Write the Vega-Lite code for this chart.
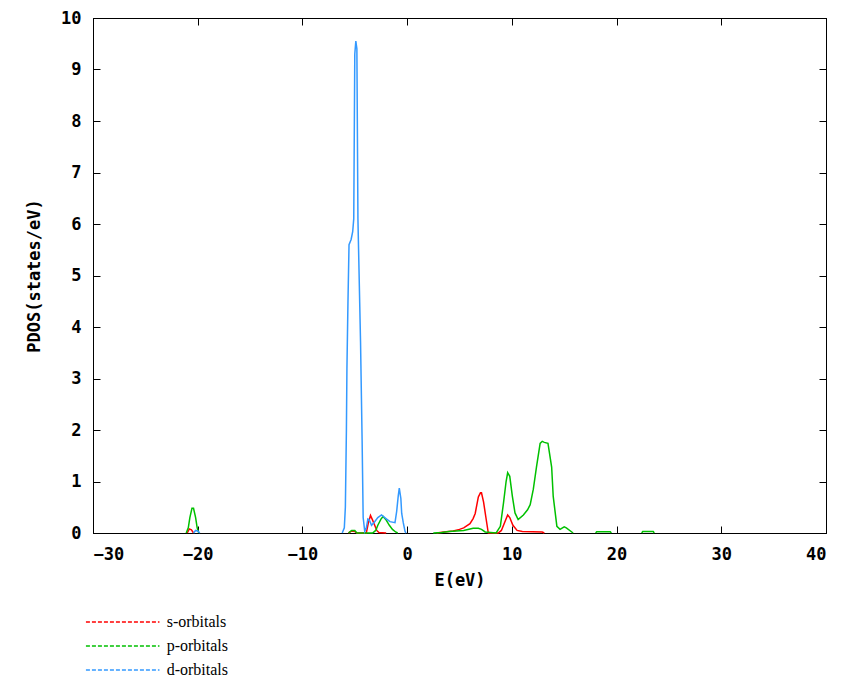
{
  "$schema": "https://vega.github.io/schema/vega-lite/v6.json",
  "width": 733,
  "height": 515,
  "autosize": {"type": "none"},
  "padding": {"left": 93, "top": 18, "right": 33, "bottom": 157},
  "background": "white",
  "config": {
    "view": {"stroke": "black", "strokeWidth": 1},
    "axis": {
      "domainColor": "black",
      "tickColor": "black",
      "grid": false,
      "labelFont": "DejaVu Sans Mono",
      "labelFontWeight": "bold",
      "labelFontSize": 17,
      "labelColor": "black",
      "titleFont": "DejaVu Sans Mono",
      "titleFontWeight": "bold",
      "titleFontSize": 17,
      "titleColor": "black",
      "tickSize": -7,
      "zindex": 1
    }
  },
  "data": {
    "values": [
      {"E": -21.0, "pdos": 0, "orbital": "s-orbitals"},
      {"E": -20.8, "pdos": 0.08, "orbital": "s-orbitals"},
      {"E": -20.6, "pdos": 0.06, "orbital": "s-orbitals"},
      {"E": -20.4, "pdos": 0, "orbital": "s-orbitals"},
      {"E": -13.0, "pdos": null, "orbital": "s-orbitals"},
      {"E": -5.6, "pdos": 0, "orbital": "s-orbitals"},
      {"E": -5.3, "pdos": 0.04, "orbital": "s-orbitals"},
      {"E": -5.0, "pdos": 0.03, "orbital": "s-orbitals"},
      {"E": -4.8, "pdos": 0, "orbital": "s-orbitals"},
      {"E": -3.9, "pdos": 0, "orbital": "s-orbitals"},
      {"E": -3.7, "pdos": 0.2, "orbital": "s-orbitals"},
      {"E": -3.5, "pdos": 0.34, "orbital": "s-orbitals"},
      {"E": -3.3, "pdos": 0.25, "orbital": "s-orbitals"},
      {"E": -3.1, "pdos": 0.15, "orbital": "s-orbitals"},
      {"E": -2.9, "pdos": 0.05, "orbital": "s-orbitals"},
      {"E": -2.7, "pdos": 0.01, "orbital": "s-orbitals"},
      {"E": -2.0, "pdos": 0, "orbital": "s-orbitals"},
      {"E": 0.5, "pdos": null, "orbital": "s-orbitals"},
      {"E": 2.8, "pdos": 0, "orbital": "s-orbitals"},
      {"E": 3.5, "pdos": 0.02, "orbital": "s-orbitals"},
      {"E": 4.4, "pdos": 0.04, "orbital": "s-orbitals"},
      {"E": 5.0, "pdos": 0.07, "orbital": "s-orbitals"},
      {"E": 5.4, "pdos": 0.1, "orbital": "s-orbitals"},
      {"E": 6.0, "pdos": 0.18, "orbital": "s-orbitals"},
      {"E": 6.3, "pdos": 0.28, "orbital": "s-orbitals"},
      {"E": 6.5, "pdos": 0.38, "orbital": "s-orbitals"},
      {"E": 6.8, "pdos": 0.7, "orbital": "s-orbitals"},
      {"E": 7.0, "pdos": 0.78, "orbital": "s-orbitals"},
      {"E": 7.1, "pdos": 0.78, "orbital": "s-orbitals"},
      {"E": 7.3, "pdos": 0.6, "orbital": "s-orbitals"},
      {"E": 7.5, "pdos": 0.33, "orbital": "s-orbitals"},
      {"E": 7.75, "pdos": 0, "orbital": "s-orbitals"},
      {"E": 8.7, "pdos": 0, "orbital": "s-orbitals"},
      {"E": 9.0, "pdos": 0.05, "orbital": "s-orbitals"},
      {"E": 9.3, "pdos": 0.2, "orbital": "s-orbitals"},
      {"E": 9.6, "pdos": 0.35, "orbital": "s-orbitals"},
      {"E": 9.8, "pdos": 0.3, "orbital": "s-orbitals"},
      {"E": 10.1, "pdos": 0.15, "orbital": "s-orbitals"},
      {"E": 10.5, "pdos": 0.05, "orbital": "s-orbitals"},
      {"E": 11.0, "pdos": 0.03, "orbital": "s-orbitals"},
      {"E": 12.9, "pdos": 0.02, "orbital": "s-orbitals"},
      {"E": 13.1, "pdos": 0, "orbital": "s-orbitals"},

      {"E": -21.1, "pdos": 0, "orbital": "p-orbitals"},
      {"E": -20.9, "pdos": 0.1, "orbital": "p-orbitals"},
      {"E": -20.75, "pdos": 0.3, "orbital": "p-orbitals"},
      {"E": -20.55, "pdos": 0.48, "orbital": "p-orbitals"},
      {"E": -20.4, "pdos": 0.48, "orbital": "p-orbitals"},
      {"E": -20.2, "pdos": 0.3, "orbital": "p-orbitals"},
      {"E": -20.05, "pdos": 0.1, "orbital": "p-orbitals"},
      {"E": -19.9, "pdos": 0, "orbital": "p-orbitals"},
      {"E": -13.0, "pdos": null, "orbital": "p-orbitals"},
      {"E": -5.6, "pdos": 0, "orbital": "p-orbitals"},
      {"E": -5.3, "pdos": 0.05, "orbital": "p-orbitals"},
      {"E": -5.0, "pdos": 0.05, "orbital": "p-orbitals"},
      {"E": -4.8, "pdos": 0, "orbital": "p-orbitals"},
      {"E": -3.3, "pdos": 0, "orbital": "p-orbitals"},
      {"E": -3.0, "pdos": 0.05, "orbital": "p-orbitals"},
      {"E": -2.8, "pdos": 0.15, "orbital": "p-orbitals"},
      {"E": -2.5, "pdos": 0.27, "orbital": "p-orbitals"},
      {"E": -2.3, "pdos": 0.32, "orbital": "p-orbitals"},
      {"E": -2.0, "pdos": 0.25, "orbital": "p-orbitals"},
      {"E": -1.7, "pdos": 0.15, "orbital": "p-orbitals"},
      {"E": -1.4, "pdos": 0.07, "orbital": "p-orbitals"},
      {"E": -1.1, "pdos": 0.02, "orbital": "p-orbitals"},
      {"E": -0.9, "pdos": 0, "orbital": "p-orbitals"},
      {"E": 0.8, "pdos": null, "orbital": "p-orbitals"},
      {"E": 2.5, "pdos": 0, "orbital": "p-orbitals"},
      {"E": 3.3, "pdos": 0.01, "orbital": "p-orbitals"},
      {"E": 4.0, "pdos": 0.03, "orbital": "p-orbitals"},
      {"E": 5.4, "pdos": 0.05, "orbital": "p-orbitals"},
      {"E": 6.3, "pdos": 0.09, "orbital": "p-orbitals"},
      {"E": 6.8, "pdos": 0.09, "orbital": "p-orbitals"},
      {"E": 7.1, "pdos": 0.07, "orbital": "p-orbitals"},
      {"E": 7.45, "pdos": 0.02, "orbital": "p-orbitals"},
      {"E": 8.5, "pdos": 0, "orbital": "p-orbitals"},
      {"E": 8.9, "pdos": 0.13, "orbital": "p-orbitals"},
      {"E": 9.2, "pdos": 0.58, "orbital": "p-orbitals"},
      {"E": 9.45, "pdos": 1.0, "orbital": "p-orbitals"},
      {"E": 9.6, "pdos": 1.17, "orbital": "p-orbitals"},
      {"E": 9.8, "pdos": 1.1, "orbital": "p-orbitals"},
      {"E": 10.05, "pdos": 0.71, "orbital": "p-orbitals"},
      {"E": 10.3, "pdos": 0.39, "orbital": "p-orbitals"},
      {"E": 10.6, "pdos": 0.26, "orbital": "p-orbitals"},
      {"E": 11.1, "pdos": 0.35, "orbital": "p-orbitals"},
      {"E": 11.5, "pdos": 0.45, "orbital": "p-orbitals"},
      {"E": 11.75, "pdos": 0.55, "orbital": "p-orbitals"},
      {"E": 12.05, "pdos": 0.85, "orbital": "p-orbitals"},
      {"E": 12.35, "pdos": 1.28, "orbital": "p-orbitals"},
      {"E": 12.7, "pdos": 1.74, "orbital": "p-orbitals"},
      {"E": 12.9, "pdos": 1.78, "orbital": "p-orbitals"},
      {"E": 13.1, "pdos": 1.76, "orbital": "p-orbitals"},
      {"E": 13.45, "pdos": 1.74, "orbital": "p-orbitals"},
      {"E": 13.8, "pdos": 1.28, "orbital": "p-orbitals"},
      {"E": 13.95, "pdos": 0.71, "orbital": "p-orbitals"},
      {"E": 14.3, "pdos": 0.13, "orbital": "p-orbitals"},
      {"E": 14.6, "pdos": 0.07, "orbital": "p-orbitals"},
      {"E": 15.0, "pdos": 0.12, "orbital": "p-orbitals"},
      {"E": 15.2, "pdos": 0.1, "orbital": "p-orbitals"},
      {"E": 15.85, "pdos": 0, "orbital": "p-orbitals"},
      {"E": 17.0, "pdos": null, "orbital": "p-orbitals"},
      {"E": 18.0, "pdos": 0, "orbital": "p-orbitals"},
      {"E": 18.1, "pdos": 0.025, "orbital": "p-orbitals"},
      {"E": 19.4, "pdos": 0.025, "orbital": "p-orbitals"},
      {"E": 19.5, "pdos": 0, "orbital": "p-orbitals"},
      {"E": 21.0, "pdos": null, "orbital": "p-orbitals"},
      {"E": 22.4, "pdos": 0, "orbital": "p-orbitals"},
      {"E": 22.5, "pdos": 0.03, "orbital": "p-orbitals"},
      {"E": 23.5, "pdos": 0.03, "orbital": "p-orbitals"},
      {"E": 23.6, "pdos": 0, "orbital": "p-orbitals"},

      {"E": -20.4, "pdos": 0, "orbital": "d-orbitals"},
      {"E": -20.2, "pdos": 0.05, "orbital": "d-orbitals"},
      {"E": -20.0, "pdos": 0.04, "orbital": "d-orbitals"},
      {"E": -19.8, "pdos": 0, "orbital": "d-orbitals"},
      {"E": -13.0, "pdos": null, "orbital": "d-orbitals"},
      {"E": -6.2, "pdos": 0, "orbital": "d-orbitals"},
      {"E": -6.0, "pdos": 0.1, "orbital": "d-orbitals"},
      {"E": -5.9, "pdos": 0.5, "orbital": "d-orbitals"},
      {"E": -5.8, "pdos": 2.0, "orbital": "d-orbitals"},
      {"E": -5.75, "pdos": 3.2, "orbital": "d-orbitals"},
      {"E": -5.65, "pdos": 4.5, "orbital": "d-orbitals"},
      {"E": -5.55, "pdos": 5.6, "orbital": "d-orbitals"},
      {"E": -5.35, "pdos": 5.7, "orbital": "d-orbitals"},
      {"E": -5.2, "pdos": 5.85, "orbital": "d-orbitals"},
      {"E": -5.1, "pdos": 6.1, "orbital": "d-orbitals"},
      {"E": -5.0, "pdos": 9.3, "orbital": "d-orbitals"},
      {"E": -4.9, "pdos": 9.55, "orbital": "d-orbitals"},
      {"E": -4.8, "pdos": 9.4, "orbital": "d-orbitals"},
      {"E": -4.7, "pdos": 6.1, "orbital": "d-orbitals"},
      {"E": -4.45, "pdos": 3.7, "orbital": "d-orbitals"},
      {"E": -4.3, "pdos": 1.8, "orbital": "d-orbitals"},
      {"E": -4.2, "pdos": 0.3, "orbital": "d-orbitals"},
      {"E": -4.05, "pdos": 0.03, "orbital": "d-orbitals"},
      {"E": -3.9, "pdos": 0.1, "orbital": "d-orbitals"},
      {"E": -3.75, "pdos": 0.27, "orbital": "d-orbitals"},
      {"E": -3.6, "pdos": 0.25, "orbital": "d-orbitals"},
      {"E": -3.4, "pdos": 0.15, "orbital": "d-orbitals"},
      {"E": -3.1, "pdos": 0.22, "orbital": "d-orbitals"},
      {"E": -2.8, "pdos": 0.3, "orbital": "d-orbitals"},
      {"E": -2.45, "pdos": 0.35, "orbital": "d-orbitals"},
      {"E": -1.96, "pdos": 0.27, "orbital": "d-orbitals"},
      {"E": -1.64, "pdos": 0.22, "orbital": "d-orbitals"},
      {"E": -1.16, "pdos": 0.2, "orbital": "d-orbitals"},
      {"E": -1.0, "pdos": 0.42, "orbital": "d-orbitals"},
      {"E": -0.85, "pdos": 0.72, "orbital": "d-orbitals"},
      {"E": -0.75, "pdos": 0.87, "orbital": "d-orbitals"},
      {"E": -0.6, "pdos": 0.67, "orbital": "d-orbitals"},
      {"E": -0.52, "pdos": 0.38, "orbital": "d-orbitals"},
      {"E": -0.37, "pdos": 0.2, "orbital": "d-orbitals"},
      {"E": -0.2, "pdos": 0.03, "orbital": "d-orbitals"},
      {"E": -0.1, "pdos": 0, "orbital": "d-orbitals"}
    ]
  },
  "layer": [
    {
      "mark": {"type": "line", "strokeWidth": 1.5, "invalid": "break-paths-show-domains"},
      "encoding": {
        "x": {
          "field": "E", "type": "quantitative",
          "scale": {"domain": [-30, 40], "nice": false, "zero": false},
          "axis": {"orient": "bottom", "values": [-30, -20, -10, 0, 10, 20, 30, 40], "format": "d", "labelPadding": 20, "title": "E(eV)", "titlePadding": 10}
        },
        "y": {
          "field": "pdos", "type": "quantitative",
          "scale": {"domain": [0, 10], "nice": false},
          "axis": {"orient": "left", "values": [0, 1, 2, 3, 4, 5, 6, 7, 8, 9, 10], "format": "d", "labelPadding": 19, "title": "PDOS(states/eV)", "titlePadding": 17}
        },
        "color": {
          "field": "orbital", "type": "nominal",
          "scale": {"domain": ["s-orbitals", "p-orbitals", "d-orbitals"], "range": ["#ff0000", "#00c000", "#3399ff"]},
          "legend": {
            "orient": "none", "legendX": 21.7, "legendY": 596,
            "title": null,
            "symbolType": "M-5.2,0H5.2", "symbolSize": 200, "symbolStrokeWidth": 1.5, "symbolDash": [4, 2],
            "labelFont": "Liberation Serif", "labelFontSize": 16, "labelColor": "black",
            "rowPadding": 8, "labelOffset": 36
          }
        }
      }
    },
    {
      "mark": {"type": "point", "opacity": 0},
      "encoding": {
        "x": {"field": "E", "type": "quantitative", "axis": {"orient": "top", "values": [-30, -20, -10, 0, 10, 20, 30, 40], "labels": false, "title": null}},
        "y": {"field": "pdos", "type": "quantitative", "axis": {"orient": "right", "values": [0, 1, 2, 3, 4, 5, 6, 7, 8, 9, 10], "labels": false, "title": null}}
      }
    }
  ],
  "resolve": {"axis": {"x": "independent", "y": "independent"}}
}
